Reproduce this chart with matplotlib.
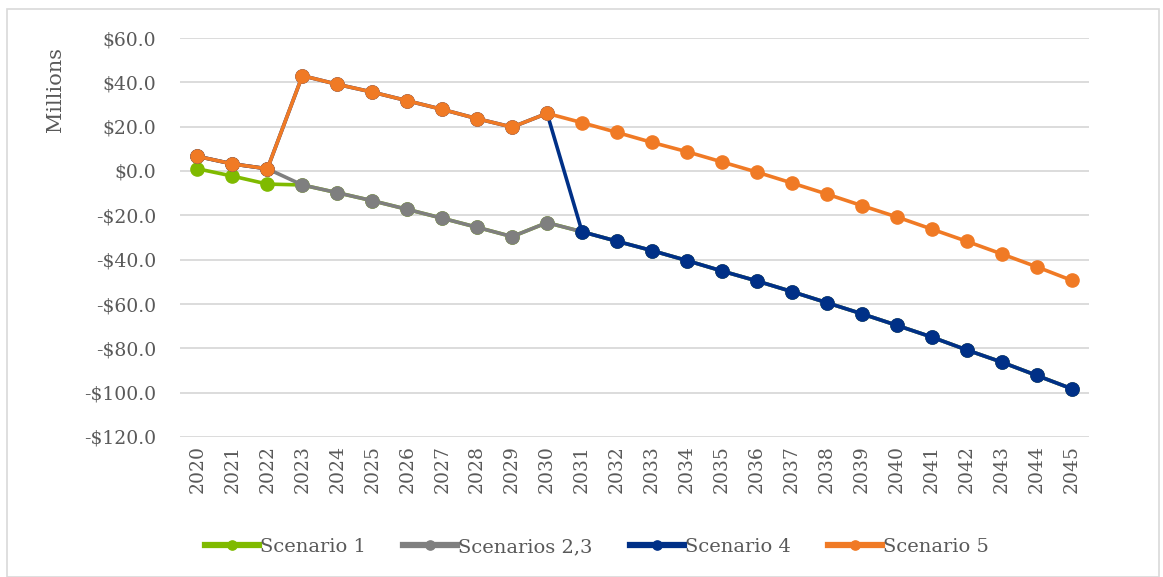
import numpy as np
import matplotlib.pyplot as plt
from matplotlib.patches import Rectangle

years = list(range(2020, 2046))

# values in $ millions
scenario_1 = [1.0, -2.3, -5.9, -6.3, -9.8, -13.4, -17.3, -21.3, -25.4, -29.6, -23.3,
              -27.4, -31.7, -35.9, -40.4, -45.1, -49.6, -54.4, -59.4, -64.4, -69.6,
              -74.9, -80.7, -86.2, -92.2, -98.2]
scenarios_2_3 = [6.6, 3.2, 1.0, -6.3, -9.8, -13.4, -17.3, -21.3, -25.4, -29.6, -23.3,
                 -27.4, -31.7, -35.9, -40.4, -45.1, -49.6, -54.4, -59.4, -64.4, -69.6,
                 -74.9, -80.7, -86.2, -92.2, -98.2]
scenario_4 = [6.6, 3.2, 1.0, 43.0, 39.1, 35.6, 31.7, 27.8, 23.6, 19.8, 26.0,
              -27.4, -31.7, -35.9, -40.4, -45.1, -49.6, -54.4, -59.4, -64.4, -69.6,
              -74.9, -80.7, -86.2, -92.2, -98.2]
scenario_5 = [6.6, 3.2, 1.0, 43.0, 39.1, 35.6, 31.7, 27.8, 23.6, 19.8, 26.0,
              21.8, 17.4, 12.9, 8.7, 4.1, -0.5, -5.4, -10.4, -15.6, -20.7,
              -26.2, -31.7, -37.4, -43.2, -49.3]

series = [
    ("Scenario 1", scenario_1, "#7fba00"),
    ("Scenarios 2,3", scenarios_2_3, "#7f7f7f"),
    ("Scenario 4", scenario_4, "#003087"),
    ("Scenario 5", scenario_5, "#f07a25"),
]

plt.rcParams['font.family'] = ['DejaVu Serif']
text_col = "#595959"

fig = plt.figure(figsize=(11.63, 5.77), dpi=100)
ax = fig.add_axes([180 / 1163, 1 - 437 / 577, (1089 - 180) / 1163, (437 - 38) / 577])

x = np.arange(len(years))
for name, vals, col in series:
    ax.plot(x, vals, color=col, lw=2.6, marker='o', markersize=9.5, label=name)

ax.set_xlim(-0.5, len(years) - 0.5)
ax.set_ylim(-120, 60)
ax.set_yticks(np.arange(-120, 61, 20))
ax.set_yticklabels([f"-${abs(v):.1f}" if v < 0 else f"${v:.1f}" for v in np.arange(-120, 61, 20)])
ax.set_xticks(x)
ax.set_xticklabels([str(y) for y in years], rotation=90)
ax.tick_params(axis='both', length=0, labelsize=13.5, colors=text_col)
ax.tick_params(axis='y', pad=17)
ax.tick_params(axis='x', pad=6)
ax.grid(axis='y', color='#d9d9d9', lw=1.3)
ax.set_axisbelow(True)
for s in ax.spines.values():
    s.set_visible(False)

fig.text(55 / 1163, 1 - 90 / 577, "Millions", rotation=90, ha='center', va='center',
         fontsize=15, color=text_col)

leg = ax.legend(loc='center', bbox_to_anchor=(597 / 1163, 1 - 547 / 577),
                bbox_transform=fig.transFigure, ncol=4, frameon=False, fontsize=14,
                handlelength=2.8, handletextpad=0.05, columnspacing=1.9, labelcolor=text_col,
                markerscale=0.7)
for h in leg.legend_handles:
    h.set_linewidth(4.5)

fig.patches.append(Rectangle((7 / 1163, 0), 1152 / 1163, 1 - 9 / 577, transform=fig.transFigure,
                             fill=False, edgecolor='#d9d9d9', lw=1.2))

fig.savefig("out.png", dpi=100)
